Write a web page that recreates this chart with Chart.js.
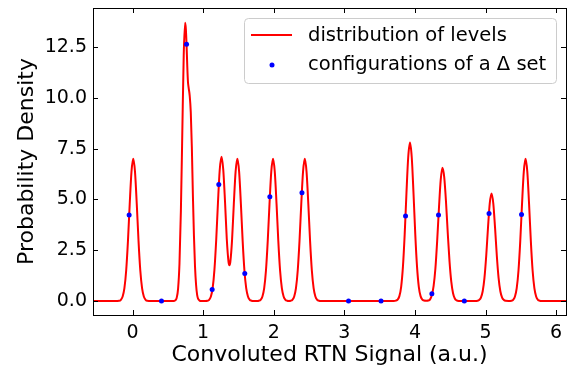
<!DOCTYPE html>
<html lang="en">
  <head>
    <meta charset="UTF-8" />
    <title>Convoluted RTN Signal</title>
    <script src="https://cdn.jsdelivr.net/npm/chart.js"></script>
    <style>
      html, body { margin: 0; padding: 0; background: #ffffff; }
      #wrap { width: 579px; height: 368px; }
    </style>
  </head>
  <body>
    <div id="wrap"><canvas id="rtnChart" width="579" height="368"></canvas></div>
    <script>
      // distribution of levels (curve)
      const levelX = [
        -0.56, -0.25,
        -0.19, -0.165, -0.14, -0.115, -0.09, -0.065, -0.04, -0.015, 0.01, 0.035, 0.06, 0.085, 0.11, 0.135, 0.16, 0.185, 0.21, 0.26,
        0.58,
        0.605, 0.625, 0.645, 0.665, 0.685, 0.705, 0.725, 0.745,
        0.755, 0.765, 0.775, 0.785, 0.795, 0.81, 0.825, 0.84, 0.855, 0.87, 0.885, 0.9, 0.915, 0.93, 0.95, 0.97,
        1.03,
        1.06, 1.085, 1.11, 1.135, 1.16, 1.185, 1.21, 1.235, 1.26, 1.285, 1.31, 1.335, 1.36, 1.3725, 1.385, 1.41, 1.435, 1.46, 1.485,
        1.51, 1.535, 1.56, 1.585, 1.61, 1.635, 1.66, 1.685, 1.71,
        1.76,
        1.79, 1.815, 1.84, 1.865, 1.89, 1.915, 1.94, 1.965, 1.99, 2.015, 2.04, 2.065, 2.09, 2.115, 2.14, 2.165, 2.19, 2.215,
        2.24, 2.265, 2.29, 2.315, 2.34, 2.365, 2.39, 2.415, 2.44, 2.465, 2.49, 2.515, 2.54, 2.565, 2.59, 2.615, 2.64, 2.67,
        3.7,
        3.73, 3.755, 3.78, 3.805, 3.83, 3.855, 3.88, 3.905, 3.93, 3.955, 3.98, 4.005, 4.03, 4.055, 4.08, 4.105, 4.13, 4.16,
        4.19, 4.215, 4.24, 4.265, 4.29, 4.315, 4.34, 4.365, 4.39, 4.415, 4.44, 4.465, 4.49, 4.515, 4.54, 4.565, 4.59, 4.62,
        4.86,
        4.885, 4.91, 4.935, 4.96, 4.985, 5.01, 5.035, 5.06, 5.085, 5.11, 5.135, 5.16, 5.185, 5.21, 5.235, 5.26, 5.285, 5.326,
        5.367, 5.392, 5.417, 5.442, 5.467, 5.492, 5.517, 5.542, 5.567, 5.592, 5.617, 5.642, 5.667, 5.692, 5.717, 5.742, 5.767, 5.8,
        6.14
      ];
      const levelY = [
        0, 0,
        0.01, 0.06, 0.22, 0.63, 1.5, 2.95, 4.77, 6.36, 7.0, 6.36, 4.77, 2.95, 1.5, 0.63, 0.22, 0.06, 0.01, 0,
        0,
        0.03, 0.15, 0.6, 1.85, 4.45, 8.31, 12.09, 13.7,
        13.4, 12.64, 11.6, 10.8, 10.5, 10.1, 9.3, 7.6, 5.2, 3.2, 1.7, 0.8, 0.3, 0.1, 0.02, 0,
        0,
        0.01, 0.06, 0.22, 0.64, 1.53, 2.99, 4.84, 6.45, 7.1, 6.47, 4.9, 3.05, 1.92, 1.76, 1.92, 3.02, 4.8, 6.37, 7.0,
        6.36, 4.77, 2.95, 1.5, 0.63, 0.22, 0.06, 0.015, 0,
        0,
        0.015, 0.06, 0.22, 0.63, 1.5, 2.95, 4.77, 6.36, 7.0, 6.36, 4.77, 2.95, 1.5, 0.63, 0.22, 0.06, 0.015, 0.005,
        0.015, 0.06, 0.22, 0.63, 1.5, 2.95, 4.77, 6.36, 7.0, 6.36, 4.77, 2.95, 1.5, 0.63, 0.22, 0.06, 0.015, 0,
        0,
        0.016, 0.07, 0.24, 0.7, 1.68, 3.28, 5.31, 7.08, 7.8, 7.08, 5.31, 3.28, 1.68, 0.7, 0.24, 0.07, 0.02, 0.01,
        0.02, 0.08, 0.3, 0.75, 1.6, 2.95, 4.55, 5.95, 6.56, 6.1, 4.9, 3.35, 1.95, 0.95, 0.38, 0.12, 0.03, 0,
        0,
        0.011, 0.05, 0.17, 0.48, 1.14, 2.23, 3.61, 4.81, 5.3, 4.81, 3.61, 2.23, 1.14, 0.48, 0.17, 0.05, 0.011, 0.004,
        0.015, 0.06, 0.22, 0.63, 1.5, 2.95, 4.77, 6.36, 7.0, 6.36, 4.77, 2.95, 1.5, 0.63, 0.22, 0.06, 0.015, 0,
        0
      ];

      // configurations of a Δ set (dots)
      const configX = [-0.048, 0.41, 0.765, 1.128, 1.222, 1.59, 1.945, 2.4, 3.06, 3.52, 3.867, 4.24, 4.334, 4.7, 5.05, 5.51];
      const configY = [4.24, 0, 12.64, 0.56, 5.74, 1.35, 5.13, 5.33, 0, 0, 4.19, 0.36, 4.23, 0, 4.31, 4.26];

      const xTicks = [0, 1, 2, 3, 4, 5, 6];
      const yTicks = [0, 2.5, 5, 7.5, 10, 12.5];

      const lineColor = "#ff0000";
      const dotColor = "#0000ff";

      Chart.defaults.font.family = "'DejaVu Sans', sans-serif";
      Chart.defaults.color = "#000000";

      // matplotlib style frame with inward ticks on all sides
      const frameTicks = {
        id: "frameTicks",
        afterDatasetsDraw(chart) {
          const { ctx, chartArea: a, scales } = chart;
          const len = 5;
          ctx.save();
          ctx.strokeStyle = "#000000";
          ctx.lineWidth = 1;
          ctx.beginPath();
          xTicks.forEach((v) => {
            const px = Math.round(scales.x.getPixelForValue(v)) + 0.5;
            ctx.moveTo(px, a.bottom);
            ctx.lineTo(px, a.bottom - len);
            ctx.moveTo(px, a.top);
            ctx.lineTo(px, a.top + len);
          });
          yTicks.forEach((v) => {
            const py = Math.round(scales.y.getPixelForValue(v)) + 0.5;
            ctx.moveTo(a.left, py);
            ctx.lineTo(a.left + len, py);
            ctx.moveTo(a.right, py);
            ctx.lineTo(a.right - len, py);
          });
          ctx.stroke();
          ctx.strokeRect(
            Math.round(a.left) + 0.5,
            Math.round(a.top) + 0.5,
            Math.round(a.right - a.left),
            Math.round(a.bottom - a.top)
          );
          ctx.restore();
        },
      };

      // legend box in the upper right corner of the plot
      const boxLegend = {
        id: "boxLegend",
        afterDraw(chart) {
          const { ctx, chartArea: a } = chart;
          const sets = chart.data.datasets;
          const w = 312, h = 65;
          const x0 = a.right - 10 - w, y0 = a.top + 10;
          ctx.save();
          ctx.fillStyle = "rgba(255,255,255,0.8)";
          ctx.strokeStyle = "#cccccc";
          ctx.lineWidth = 1;
          ctx.beginPath();
          ctx.roundRect(x0 + 0.5, y0 + 0.5, w, h, 4);
          ctx.fill();
          ctx.stroke();

          const row1 = y0 + 17, row2 = y0 + 47;
          ctx.strokeStyle = sets[0].borderColor;
          ctx.lineWidth = 2;
          ctx.beginPath();
          ctx.moveTo(x0 + 7, row1);
          ctx.lineTo(x0 + 48, row1);
          ctx.stroke();

          ctx.fillStyle = sets[1].backgroundColor;
          ctx.beginPath();
          ctx.arc(x0 + 28, row2, 2.5, 0, Math.PI * 2);
          ctx.fill();

          ctx.fillStyle = "#000000";
          ctx.font = "19.5px 'DejaVu Sans'";
          ctx.textBaseline = "middle";
          ctx.fillText(sets[0].label, x0 + 64, row1 + 1);
          ctx.fillText(sets[1].label, x0 + 64, row2);
          ctx.restore();
        },
      };

      const ctx = document.getElementById("rtnChart").getContext("2d");
      new Chart(ctx, {
        type: "scatter",
        data: {
          datasets: [
            {
              label: "distribution of levels",
              data: levelX.map((x, i) => ({ x: x, y: levelY[i] })),
              showLine: true,
              borderColor: lineColor,
              backgroundColor: lineColor,
              borderWidth: 2,
              pointRadius: 0,
              cubicInterpolationMode: "monotone",
              order: 1,
            },
            {
              label: "configurations of a Δ set",
              data: configX.map((x, i) => ({ x: x, y: configY[i] })),
              showLine: false,
              borderColor: dotColor,
              backgroundColor: dotColor,
              borderWidth: 0,
              pointRadius: 2.5,
              order: 0,
            },
          ],
        },
        options: {
          responsive: false,
          animation: false,
          layout: { padding: { top: 8, right: 13, left: 0, bottom: 0 } },
          plugins: {
            legend: { display: false },
            tooltip: { enabled: false },
          },
          scales: {
            x: {
              type: "linear",
              min: -0.56,
              max: 6.14,
              afterBuildTicks: (axis) => {
                axis.ticks = xTicks.map((v) => ({ value: v }));
              },
              afterFit: (axis) => {
                axis.height = 53;
                axis.paddingLeft = 0;
                axis.paddingRight = 0;
              },
              grid: { display: false, drawTicks: false },
              border: { display: false },
              ticks: {
                font: { size: 19 },
                padding: 7,
                maxRotation: 0,
                callback: (v) => String(v),
              },
              title: {
                display: true,
                text: "Convoluted RTN Signal (a.u.)",
                font: { size: 22 },
                padding: { top: 0, bottom: 0 },
              },
            },
            y: {
              type: "linear",
              min: -0.69,
              max: 14.43,
              afterBuildTicks: (axis) => {
                axis.ticks = yTicks.map((v) => ({ value: v }));
              },
              afterFit: (axis) => {
                axis.width = 93;
                axis.paddingTop = 0;
                axis.paddingBottom = 0;
              },
              grid: { display: false, drawTicks: false },
              border: { display: false },
              ticks: {
                font: { size: 19 },
                padding: 6,
                callback: (v) => v.toFixed(1),
              },
              title: {
                display: true,
                text: "Probability Density",
                font: { size: 22 },
                padding: { top: 14, bottom: 0 },
              },
            },
          },
        },
        plugins: [frameTicks, boxLegend],
      });
    </script>
  </body>
</html>
